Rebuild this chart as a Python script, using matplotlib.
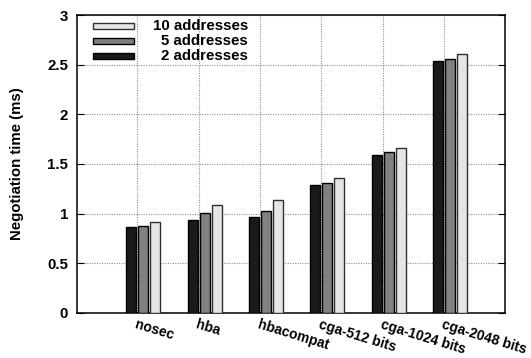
import matplotlib
matplotlib.use('Agg')
import matplotlib.pyplot as plt
from matplotlib.patches import Rectangle
import numpy as np

plt.rcParams['font.family'] = ['Liberation Sans', 'DejaVu Sans']
plt.rcParams['font.weight'] = 'bold'

categories = ['nosec', 'hba', 'hbacompat', 'cga-512 bits', 'cga-1024 bits', 'cga-2048 bits']
addr_2 = [0.863, 0.936, 0.963, 1.285, 1.590, 2.537]
addr_5 = [0.876, 1.005, 1.027, 1.312, 1.618, 2.557]
addr_10 = [0.913, 1.087, 1.135, 1.356, 1.664, 2.604]
series = [('2 addresses', addr_2, '#1a1a1a', '#000000'),
          ('5 addresses', addr_5, '#808080', '#000000'),
          ('10 addresses', addr_10, '#e5e5e5', '#303030')]

fig = plt.figure(figsize=(5.31, 3.58), dpi=100)
ax = fig.add_axes([0.145, 0.1257, 0.806, 0.8324])

x = np.arange(len(categories))
width = 0.163
offsets = [-0.098, 0.098, 0.293]
for (label, vals, color, edge), off in zip(series, offsets):
    ax.bar(x + off, vals, width, color=color, edgecolor=edge, linewidth=1, zorder=3)

ax.set_xlim(-0.98, 5.99)
ax.set_ylim(0, 3)
ax.set_yticks(np.arange(0, 3.01, 0.5))
ax.set_yticklabels(['0', '0.5', '1', '1.5', '2', '2.5', '3'], fontsize=10.8, fontweight='bold')
ax.set_xticks(x)
ax.set_xticklabels(categories, rotation=-17, ha='left', va='top',
                   rotation_mode='anchor', fontsize=10, fontweight='bold')
ax.tick_params(axis='x', length=0, pad=3.5)
ax.tick_params(axis='y', direction='in', length=5, right=True, width=0.8, pad=6.5)
ax.grid(True, color='#909090', linestyle=(0, (1, 1.2)), linewidth=0.8, zorder=0)
ax.set_axisbelow(True)
for s in ax.spines.values():
    s.set_linewidth(1.1)

ax.set_ylabel('Negotiation time (ms)', fontsize=10.8, fontweight='bold')
ax.yaxis.set_label_coords(-0.123, 0.5)

# legend drawn by hand so the labels can be right aligned like the original
rows = [0.963, 0.913, 0.862]
for (label, vals, color, edge), yy in zip(series[::-1], rows):
    ax.add_patch(Rectangle((0.037, yy - 0.011), 0.096, 0.022, transform=ax.transAxes,
                           facecolor=color, edgecolor=edge, linewidth=1, zorder=5))
    ax.text(0.4, yy, label, transform=ax.transAxes, ha='right', va='center',
            fontsize=10.8, fontweight='bold', zorder=5)

fig.savefig('out.png', dpi=100)
